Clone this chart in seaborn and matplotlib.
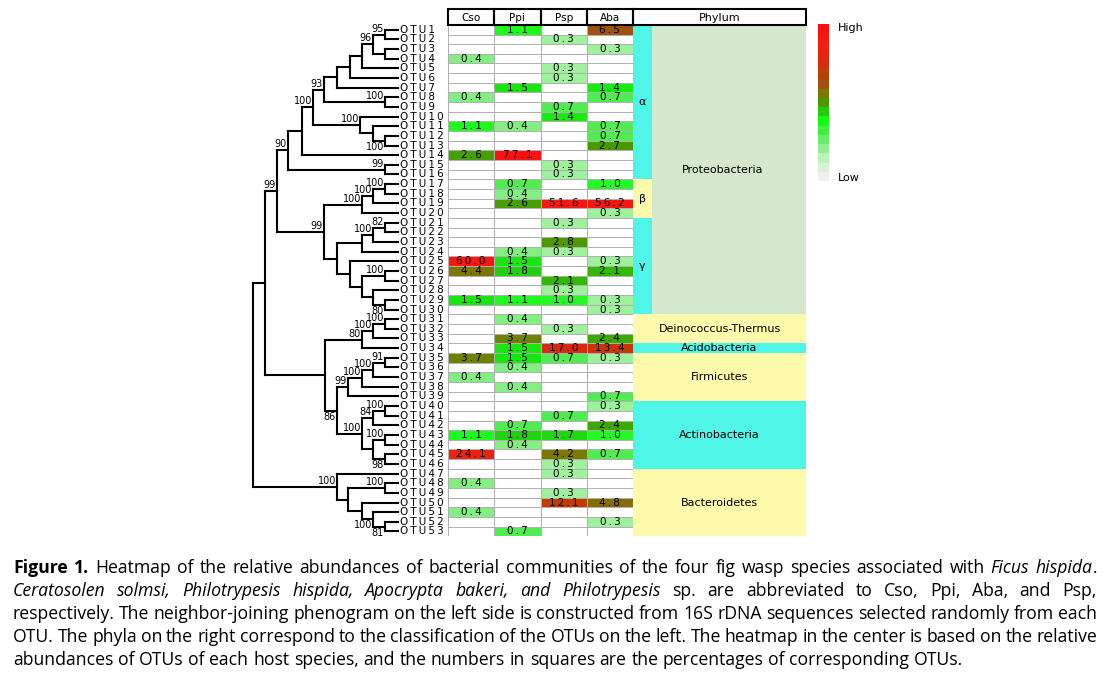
import numpy as np
import pandas as pd
import seaborn as sns
import matplotlib
matplotlib.use('Agg')
import matplotlib.pyplot as plt
from matplotlib.colors import LinearSegmentedColormap, Normalize
from matplotlib.cm import ScalarMappable
from matplotlib.patches import Rectangle

# ---- data ----
otus = [f'OTU{i}' for i in range(1, 54)]
species = ['Cso', 'Ppi', 'Psp', 'Aba']
_ = None
cso = [_, _, _, 0.4, _, _, _, 0.4, _, _,
       1.1, _, _, 2.6, _, _, _, _, _, _,
       _, _, _, _, 60.0, 4.4, _, _, 1.5, _,
       _, _, _, _, 3.7, _, 0.4, _, _, _,
       _, _, 1.1, _, 24.1, _, _, 0.4, _, _,
       0.4, _, _]
ppi = [1.1, _, _, _, _, _, 1.5, _, _, _,
       0.4, _, _, 77.1, _, _, 0.7, 0.4, 2.6, _,
       _, _, _, 0.4, 1.5, 1.8, _, _, 1.1, _,
       0.4, _, 3.7, 1.5, 1.5, 0.4, _, 0.4, _, _,
       _, 0.7, 1.8, 0.4, _, _, _, _, _, _,
       _, _, 0.7]
psp = [_, 0.3, _, _, 0.3, 0.3, _, _, 0.7, 1.4,
       _, _, _, _, 0.3, 0.3, _, _, 51.6, _,
       0.3, _, 2.8, 0.3, _, _, 2.1, 0.3, 1.0, _,
       _, 0.3, _, 17.0, 0.7, _, _, _, _, _,
       0.7, _, 1.7, _, 4.2, 0.3, 0.3, _, 0.3, 12.1,
       _, _, _]
aba = [6.5, _, 0.3, _, _, _, 1.4, 0.7, _, _,
       0.7, 0.7, 2.7, _, _, _, 1.0, _, 56.2, 0.3,
       _, _, _, _, 0.3, 2.1, _, _, 0.3, 0.3,
       _, _, 2.4, 13.4, 0.3, _, _, _, 0.7, 0.3,
       _, 2.4, 1.0, _, 0.7, _, _, _, _, 4.8,
       _, 0.3, _]

phyla = ['Proteobacteria', 'Deinococcus-Thermus', 'Acidobacteria',
         'Firmicutes', 'Actinobacteria', 'Bacteroidetes']
phylum_first = [1, 31, 34, 35, 40, 47]
phylum_last = [30, 33, 34, 39, 46, 53]
classes = ['α', 'β', 'γ']
class_first = [1, 17, 21]
class_last = [16, 20, 30]


# neighbor-joining phenogram: node(depth, bootstrap, children...), leaves = OTU number
def node(depth, boot, *kids, below=False):
    return {'d': depth, 'b': boot, 'kids': kids, 'below': below}


TIP = 145
tree = node(0, '',
    node(12, '',
        node(24, '99',
            node(35, '90',
                node(49, '',
                    node(60, '100',
                        node(71, '93',
                            node(84, '',
                                node(97, '',
                                    node(109, '',
                                        node(120, '96', node(132, '95', 1, 2), node(132, '', 3, 4)),
                                        5),
                                    6),
                                7),
                            node(132, '100', 8, 9)),
                        node(107, '100', 10,
                             node(120, '', 11, node(132, '100', 12, 13, below=True)))),
                    14),
                node(132, '99', 15, 16)),
            node(71, '99',
                node(109, '100', node(120, '100', node(132, '100', 17, 18), 19), 20),
                node(84, '',
                    node(109, '', node(120, '100', node(132, '82', 21, 22), 23), 24),
                    node(97, '', 25,
                         node(109, '', node(132, '100', 26, 27),
                              node(120, '', 28, node(132, '80', 29, 30, below=True))))))),
        node(72, '',
            node(109, '80', node(120, '100', node(132, '100', 31, 32), 33), 34),
            node(84, '86',
                node(95, '99',
                     node(109, '100', node(120, '100', node(132, '91', 35, 36), 37), 38), 39),
                node(109, '100',
                    node(120, '84', node(132, '100', 40, 41), 42),
                    node(120, '', node(132, '100', 43, 44), node(132, '98', 45, 46, below=True))),
                below=True))),
    node(84, '100', 47,
        node(95, '', node(132, '100', 48, 49),
            node(109, '', 50,
                 node(120, '100', 51, node(132, '81', 52, 53, below=True), below=True)))))

caption = [
    [('Figure 1.', 'bold'), (' Heatmap of the relative abundances of bacterial communities of the four fig wasp species associated with ', 'normal'),
     ('Ficus hispida', 'italic'), ('.', 'normal')],
    [('Ceratosolen solmsi, Philotrypesis hispida, Apocrypta bakeri, and Philotrypesis', 'italic'),
     (' sp. are abbreviated to Cso, Ppi, Aba, and Psp,', 'normal')],
    [('respectively. The neighbor-joining phenogram on the left side is constructed from 16S rDNA sequences selected randomly from each', 'normal')],
    [('OTU. The phyla on the right correspond to the classification of the OTUs on the left. The heatmap in the center is based on the relative', 'normal')],
    [('abundances of OTUs of each host species, and the numbers in squares are the percentages of corresponding OTUs.', 'normal')],
]

# ---- figure ----
W, H = 1111, 675
fig = plt.figure(figsize=(W / 100, H / 100), dpi=100)
plt.rcParams['font.family'] = ['DejaVu Sans']
TS = '\u2009'  # thin space, to mimic the wide tracking of the original


def spaced(s):
    return TS.join(s)


def box(x0, y0, x1, y1):
    return [x0 / W, 1 - y1 / H, (x1 - x0) / W, (y1 - y0) / H]


top, bottom = 24.9, 536.3
ax_tree = fig.add_axes(box(245, top, 448, bottom))
ax_hm = fig.add_axes(box(448, top, 633, bottom))
ax_ph = fig.add_axes(box(633, top, 806, bottom))
ax_hd = fig.add_axes(box(448, 9, 806, top))
cax = fig.add_axes(box(818, 24, 829, 181))

# heatmap (log scale colours)
vals = pd.DataFrame({'Cso': cso, 'Ppi': ppi, 'Psp': psp, 'Aba': aba}, index=otus).astype(float)
annot = vals.apply(lambda c: c.map(lambda v: '' if np.isnan(v) else spaced(f'{v:.1f}')))
anchor_v = [0.1, 0.2, 0.35, 0.7, 1.2, 1.8, 2.1, 2.7, 4.2, 6.5, 12.5, 17, 30, 80]
anchor_c = ['#f0f0f0', '#c8f4c0', '#90f090', '#50ec50', '#10ff10', '#20d010', '#30b800',
            '#4a9a00', '#7a7a00', '#a05010', '#c43800', '#d82a10', '#f02010', '#ff1010']
lo, hi = np.log10(anchor_v[0]), np.log10(anchor_v[-1])
cmap = LinearSegmentedColormap.from_list(
    'abund', [((np.log10(v) - lo) / (hi - lo), c) for v, c in zip(anchor_v, anchor_c)])
cmap.set_under('white')
sns.heatmap(np.log10(vals.fillna(0.01)), ax=ax_hm, cmap=cmap, vmin=lo, vmax=hi,
            annot=annot.values, fmt='', cbar=False, linewidths=0.7, linecolor='#b0b0b0',
            xticklabels=False, yticklabels=False,
            annot_kws={'fontsize': 7.5, 'color': 'black'})
ax_hm.set_xlabel('')
ax_hm.set_ylabel('')

# header
cw = (633 - 448) / 4
ax_hd.set_xlim(0, 806 - 448)
ax_hd.set_ylim(0, 1)
ax_hd.axis('off')
for i, s in enumerate(species):
    ax_hd.add_patch(Rectangle((i * cw, 0), cw, 1, fill=False, lw=1.5, ec='black', clip_on=False))
    ax_hd.text((i + 0.5) * cw, 0.45, s, ha='center', va='center', fontsize=7.5)
ax_hd.add_patch(Rectangle((4 * cw, 0), 806 - 633, 1, fill=False, lw=1.5, ec='black', clip_on=False))
ax_hd.text(4 * cw + (806 - 633) / 2, 0.45, 'Phylum', ha='center', va='center', fontsize=8)

# phylum column
ax_ph.set_xlim(0, 1)
ax_ph.set_ylim(53, 0)
ax_ph.axis('off')
phylum_colors = ['#d5e8cd', '#fdfbab', '#4ff5e6', '#fdfbab', '#4ff5e6', '#fdfbab']
for name, a, b, c in zip(phyla, phylum_first, phylum_last, phylum_colors):
    ax_ph.add_patch(Rectangle((0, a - 1), 1, b - a + 1, color=c, lw=0))
    xc = 0.52 if name == 'Proteobacteria' else 0.5
    ax_ph.text(xc, (a - 1 + b) / 2, name, ha='center', va='center', fontsize=8)
class_colors = ['#4ff5e6', '#fdfbab', '#4ff5e6']
for name, a, b, c in zip(classes, class_first, class_last, class_colors):
    ax_ph.add_patch(Rectangle((0, a - 1), 0.11, b - a + 1, color=c, lw=0))
    ax_ph.text(0.055, (a - 1 + b) / 2, name, ha='center', va='center', fontsize=8)

# phenogram
ax_tree.set_xlim(-8, 195)
ax_tree.set_ylim(53, 0)
ax_tree.axis('off')
LW = 1.5


def draw(n):
    if isinstance(n, int):
        return TIP, n - 0.5
    ys = []
    for k in n['kids']:
        kx, ky = draw(k)
        ax_tree.plot([n['d'], kx], [ky, ky], color='black', lw=LW, solid_capstyle='projecting')
        ys.append(ky)
    ax_tree.plot([n['d'], n['d']], [min(ys), max(ys)], color='black', lw=LW,
                 solid_capstyle='projecting')
    y = (min(ys) + max(ys)) / 2
    if n['b']:
        if n['below']:
            ax_tree.text(n['d'] - 1, y + 0.1, n['b'], ha='right', va='top', fontsize=7)
        else:
            ax_tree.text(n['d'] - 1, y - 0.1, n['b'], ha='right', va='bottom', fontsize=7)
    return n['d'], y


draw(tree)
for i, o in enumerate(otus):
    ax_tree.text(TIP + 1.5, i + 0.5, spaced(o), ha='left', va='center', fontsize=7.5)

# colour key
sm = ScalarMappable(norm=Normalize(0, 1), cmap=cmap.resampled(17))
cb = fig.colorbar(sm, cax=cax)
cb.set_ticks([])
cb.outline.set_visible(False)
fig.text(838 / W, 1 - 28 / H, 'High', fontsize=8, va='center')
fig.text(838 / W, 1 - 178 / H, 'Low', fontsize=8, va='center')

# caption, justified
renderer = fig.canvas.get_renderer()
left, right = 13, 1097
line_y = [568, 591, 614, 637, 660]
cap_font = {'family': 'Open Sans', 'size': 12.7}
probe1 = fig.text(0, 0, 'a b', **cap_font)
probe2 = fig.text(0, 0, 'ab', **cap_font)
space = probe1.get_window_extent(renderer).width - probe2.get_window_extent(renderer).width
probe1.remove()
probe2.remove()
for li, segs in enumerate(caption):
    words = [[]]
    for text, style in segs:
        parts = text.split(' ')
        for pi, p in enumerate(parts):
            if pi > 0:
                words.append([])
            if p:
                words[-1].append((p, style))
    words = [w for w in words if w]
    objs, widths = [], []
    for w in words:
        row, tw = [], 0
        for p, style in w:
            t = fig.text(0, 1 - line_y[li] / H, p, va='center', ha='left',
                         fontweight='bold' if style == 'bold' else 'normal',
                         fontstyle='italic' if style == 'italic' else 'normal', **cap_font)
            pw = t.get_window_extent(renderer).width
            row.append((t, pw))
            tw += pw
        objs.append(row)
        widths.append(tw)
    if li < len(caption) - 1:
        gap = (right - left - sum(widths)) / (len(words) - 1)
    else:
        gap = space
    x = left
    for row, tw in zip(objs, widths):
        xx = x
        for t, pw in row:
            t.set_x(xx / W)
            xx += pw
        x += tw + gap

fig.savefig('out.png', dpi=100)
